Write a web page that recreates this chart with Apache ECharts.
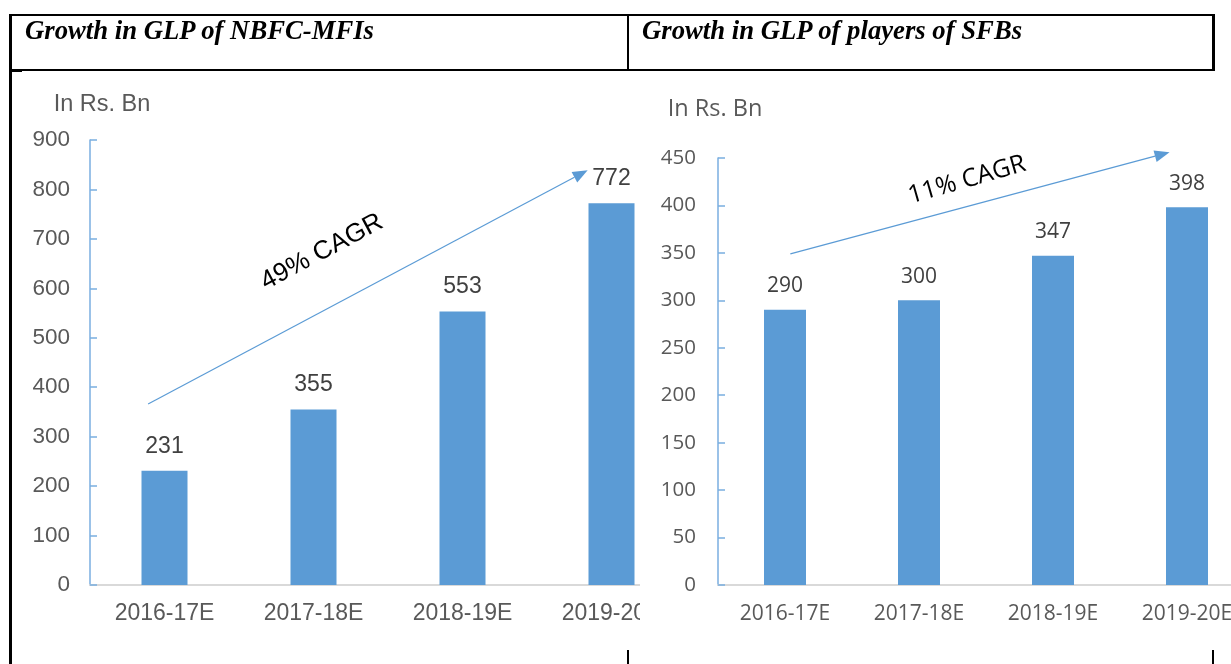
<!DOCTYPE html>
<html>
<head>
<meta charset="utf-8">
<script src="https://cdn.jsdelivr.net/npm/echarts@6/dist/echarts.min.js"></script>
<style>
  body { margin: 0; background: #fff; }
  #wrap { position: relative; width: 1231px; height: 664px; overflow: hidden; background: #fff; }
  #chart1 { position: absolute; left: 0; top: 0; width: 640px; height: 664px; }
  #chart2 { position: absolute; left: 640px; top: 0; width: 591px; height: 664px; }
  .ln { position: absolute; background: #000; z-index: 5; }
  .hd { position: absolute; top: 15px; font-family: "Liberation Serif", "DejaVu Serif", serif;
        font-weight: bold; font-style: italic; font-size: 26.7px; color: #000; z-index: 5; white-space: nowrap; }
</style>
</head>
<body>
<div id="wrap">
  <div id="chart1"></div>
  <div id="chart2"></div>

  <!-- table frame round the two charts -->
  <div class="ln" style="left:9px; top:14px; width:1206px; height:2px;"></div>
  <div class="ln" style="left:9px; top:69px; width:1206px; height:2px;"></div>
  <div class="ln" style="left:9px; top:14px; width:3px; height:650px;"></div>
  <div class="ln" style="left:627px; top:14px; width:2px; height:56px;"></div>
  <div class="ln" style="left:1212px; top:14px; width:3px; height:57px;"></div>
  <div class="ln" style="left:12px; top:71px; width:10px; height:1px;"></div>
  <div class="ln" style="left:627px; top:650px; width:2px; height:14px;"></div>
  <div class="ln" style="left:1212px; top:650px; width:2px; height:14px;"></div>

  <div class="hd" style="left:25px;">Growth in GLP of NBFC-MFIs</div>
  <div class="hd" style="left:642px;">Growth in GLP of players of SFBs</div>
</div>

<script>
// data
var years = ['2016-17E', '2017-18E', '2018-19E', '2019-20E'];
var nbfcGlp = [231, 355, 553, 772];
var sfbGlp = [290, 300, 347, 398];

// CAGR arrows: [category position, value] for start and end
var nbfcArrow = [[-0.11, 366], [2.84, 839]];
var sfbArrow = [[0.04, 349], [2.87, 456]];
var nbfcCagr = '49% CAGR';
var sfbCagr = '11% CAGR';

var barColor = '#5b9bd5';
var axisBlue = '#7aaee0';

function makeOption(cfg) {
  return {
    animation: false,
    grid: { left: cfg.left, top: cfg.top, width: cfg.width, height: cfg.height, outerBoundsMode: 'none', containLabel: false },
    xAxis: {
      type: 'category',
      data: years,
      axisLine: { lineStyle: { color: '#d9d9d9', width: 2 } },
      axisTick: { show: false },
      axisLabel: { color: '#595959', fontFamily: cfg.font, fontSize: cfg.xSize, margin: cfg.xMargin, interval: 0 }
    },
    yAxis: {
      type: 'value',
      min: 0,
      max: cfg.max,
      interval: cfg.interval,
      axisLine: { show: true, lineStyle: { color: axisBlue, width: 1.5 } },
      axisTick: { show: true, inside: true, length: 7, lineStyle: { color: axisBlue, width: 1.5 } },
      splitLine: { show: false },
      axisLabel: { color: '#595959', fontFamily: cfg.font, fontSize: cfg.ySize, margin: cfg.yMargin }
    },
    series: [{
      type: 'bar',
      data: cfg.data,
      barWidth: cfg.barWidth,
      itemStyle: { color: barColor },
      label: {
        show: true,
        position: 'top',
        distance: 13,
        color: '#404040',
        fontFamily: cfg.font,
        fontSize: cfg.labelSize
      }
    }]
  };
}

function toPx(chart, pt) {
  var a = chart.convertToPixel({ gridIndex: 0 }, [0, pt[1]]);
  var b = chart.convertToPixel({ gridIndex: 0 }, [1, pt[1]]);
  return [a[0] + pt[0] * (b[0] - a[0]), a[1]];
}

function addArrow(chart, arrow, text, textPos, rot, font, cagrSize, unitPos, unitSize) {
  var s = toPx(chart, arrow[0]);
  var e = toPx(chart, arrow[1]);
  var ang = Math.atan2(e[1] - s[1], e[0] - s[0]);
  var L = 15, W = 6;
  var bx = e[0] - L * Math.cos(ang), by = e[1] - L * Math.sin(ang);
  var head = [
    e,
    [bx + W * Math.sin(ang), by - W * Math.cos(ang)],
    [bx - W * Math.sin(ang), by + W * Math.cos(ang)]
  ];
  chart.setOption({
    graphic: [
      { type: 'line', shape: { x1: s[0], y1: s[1], x2: bx, y2: by }, style: { stroke: barColor, lineWidth: 1.2 } },
      { type: 'polygon', shape: { points: head }, style: { fill: barColor } },
      {
        type: 'text', x: textPos[0], y: textPos[1], rotation: rot * Math.PI / 180,
        style: { text: text, fill: '#000', font: cagrSize + 'px ' + font, align: 'center', verticalAlign: 'middle' }
      },
      {
        type: 'text', x: unitPos[0], y: unitPos[1],
        style: { text: 'In Rs. Bn', fill: '#595959', font: unitSize + 'px ' + font, align: 'center', verticalAlign: 'middle' }
      }
    ]
  });
}

var chart1 = echarts.init(document.getElementById('chart1'));
chart1.setOption(makeOption({
  left: 90, top: 140, width: 596, height: 445,
  max: 900, interval: 100, data: nbfcGlp, barWidth: 46,
  font: '"Liberation Sans", Arial, sans-serif',
  xSize: 23, ySize: 22.5, labelSize: 23, xMargin: 17, yMargin: 20
}));
addArrow(chart1, nbfcArrow, nbfcCagr, [322, 252], 28, '"Liberation Sans", Arial, sans-serif', 26, [102, 105], 23.5);

var chart2 = echarts.init(document.getElementById('chart2'));
chart2.setOption(makeOption({
  left: 78, top: 158, width: 536, height: 427,
  max: 450, interval: 50, data: sfbGlp, barWidth: 42,
  font: '"Open Sans", sans-serif',
  xSize: 21, ySize: 20.5, labelSize: 21, xMargin: 19, yMargin: 22
}));
addArrow(chart2, sfbArrow, sfbCagr, [327, 180], 16, '"Open Sans", sans-serif', 25, [75, 109], 23.5);
</script>
</body>
</html>
